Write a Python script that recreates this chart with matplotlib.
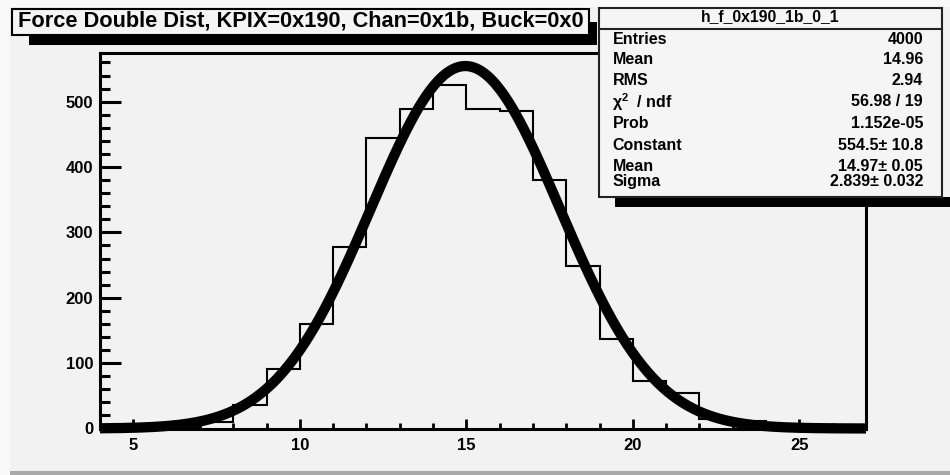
import numpy as np
import matplotlib
matplotlib.use("Agg")
import matplotlib.pyplot as plt
from matplotlib.patches import Rectangle
from matplotlib.lines import Line2D

# ---- histogram data (unit bins from 4 to 27) ----
bin_edges = list(range(4, 28))
counts = [0, 1, 3, 10, 36, 91, 160, 278, 444, 489, 525, 489,
          485, 380, 249, 137, 73, 54, 14, 11, 2, 0, 0]

# ---- statistics and Gaussian fit results ----
hist_name = "h_f_0x190_1b_0_1"
title = "Force Double Dist, KPIX=0x190, Chan=0x1b, Buck=0x0"
entries = 4000
mean = 14.96
rms = 2.94
chi2 = 56.98
ndf = 19
prob = "1.152e-05"
fit_constant, fit_constant_err = 554.5, 10.8
fit_mean, fit_mean_err = 14.97, 0.05
fit_sigma, fit_sigma_err = 2.839, 0.032

x_ticks = [5, 10, 15, 20, 25]
y_ticks = [0, 100, 200, 300, 400, 500]

FONT = "Liberation Sans"
BG = "#f2f2f2"
W, H = 950, 475

plt.rcParams["mathtext.fontset"] = "custom"
plt.rcParams["mathtext.rm"] = "Liberation Sans"
plt.rcParams["mathtext.bf"] = "Liberation Sans:bold"


def fx(px):
    return px / W


def fy(py):
    return 1 - py / H


def prect(x0, y0, x1, y1, **kw):
    """Rectangle given in pixel coordinates (origin top-left)."""
    return Rectangle((fx(x0), fy(y1)), (x1 - x0) / W, (y1 - y0) / H,
                     transform=fig.transFigure, **kw)


fig = plt.figure(figsize=(9.5, 4.75), dpi=100)
fig.patch.set_facecolor(BG)

# canvas bevel
fig.add_artist(prect(0, 0, 10, 475, facecolor="#f9f9f9", edgecolor="none", zorder=0.5))
fig.add_artist(prect(0, 0, 950, 7, facecolor="#f9f9f9", edgecolor="none", zorder=0.5))
fig.add_artist(prect(10, 471, 950, 475, facecolor="#a9a9a9", edgecolor="none", zorder=0.5))

ax = fig.add_axes([fx(100), fy(428.5), fx(866) - fx(100), fy(53.3) - fy(428.5)])
ax.set_facecolor(BG)
ax.set_xlim(4, 27)
ax.set_ylim(0, 574)

# histogram outline
ax.stairs(counts, bin_edges, color="black", linewidth=1.5, zorder=3)

# Gaussian fit curve
xf = np.linspace(4, 27, 600)
yf = fit_constant * np.exp(-0.5 * ((xf - fit_mean) / fit_sigma) ** 2)
ax.plot(xf, yf, color="black", linewidth=7.4, solid_capstyle="butt",
        clip_on=False, zorder=4)

for s in ax.spines.values():
    s.set_linewidth(2.2)
    s.set_color("black")

ax.set_xticks(x_ticks)
ax.set_xticks(np.arange(4, 28, 1), minor=True)
ax.set_yticks(y_ticks)
ax.set_yticks(np.arange(0, 574, 20), minor=True)
ax.tick_params(axis="x", which="major", direction="in", length=7.5, width=2.0,
               pad=7, top=False)
ax.tick_params(axis="x", which="minor", direction="in", length=4, width=2.0, top=False)
ax.tick_params(axis="y", which="major", direction="in", length=15, width=2.2,
               pad=5, right=False)
ax.tick_params(axis="y", which="minor", direction="in", length=7.5, width=2.2, right=False)
for lab in ax.get_xticklabels() + ax.get_yticklabels():
    lab.set_fontfamily(FONT)
    lab.set_fontweight("bold")
    lab.set_fontsize(12)

# ---- title box with shadow ----
fig.add_artist(prect(29, 21.7, 597, 45, facecolor="black", edgecolor="none", zorder=2))
fig.add_artist(prect(11.7, 9, 589, 35, facecolor="#f5f5f5", edgecolor="black",
                     linewidth=1.5, zorder=2.1))
fig.text(fx(18), fy(21.5), title, fontfamily=FONT, fontweight="bold",
         fontsize=15.7, ha="left", va="center", zorder=3)

# ---- statistics box with shadow ----
fig.add_artist(prect(615, 197, 950, 207, facecolor="black", edgecolor="none", zorder=2))
fig.add_artist(prect(599, 8, 942, 197, facecolor="#f5f5f5", edgecolor="#222222",
                     linewidth=1.5, zorder=2.1))
fig.add_artist(Line2D([fx(599), fx(942)], [fy(29.3), fy(29.3)],
                      transform=fig.transFigure, color="#222222", linewidth=1.5, zorder=2.2))
fig.text(fx(770.5), fy(17), hist_name, fontfamily=FONT, fontweight="bold",
         fontsize=11.3, ha="center", va="center", zorder=3)

rows = [
    ("Entries", f"{entries}", 39.3),
    ("Mean", f"{mean:.2f}", 60.0),
    ("RMS", f"{rms:.2f}", 80.7),
    (r"χ$^{\mathbf{2}}$  / ndf", f"{chi2:.2f} / {ndf}", 101.7),
    ("Prob", prob, 123.3),
    ("Constant", f"{fit_constant:.1f}± {fit_constant_err:.1f}", 145.7),
    ("Mean", f"{fit_mean:.2f}± {fit_mean_err:.2f}", 166.7),
    ("Sigma", f"{fit_sigma:.3f}± {fit_sigma_err:.3f}", 181.7),
]
for label, value, ypx in rows:
    fig.text(fx(612.5), fy(ypx), label, fontfamily=FONT, fontweight="bold",
             fontsize=11.5, ha="left", va="center", zorder=3)
    fig.text(fx(923), fy(ypx), value, fontfamily=FONT, fontweight="bold",
             fontsize=11.5, ha="right", va="center", zorder=3)

fig.savefig("out.png", dpi=100, facecolor=fig.get_facecolor())
